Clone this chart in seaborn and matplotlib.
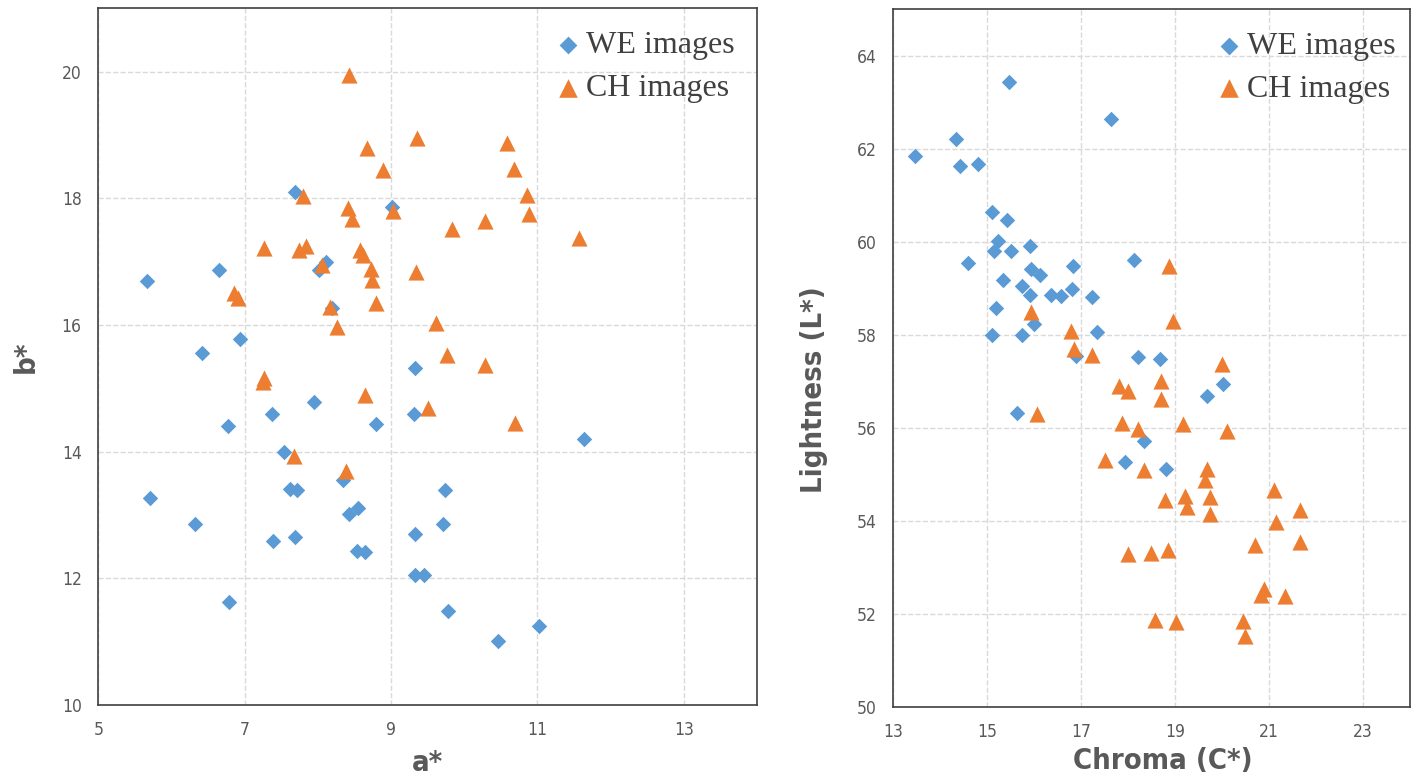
import matplotlib
matplotlib.use("Agg")
import matplotlib.pyplot as plt
import seaborn as sns
import pandas as pd

# WE images, a*/b* (left panel)
we_a = [5.67, 6.65, 6.93, 6.41, 9.33, 7.69, 9.01, 8.11, 8.01, 8.19,
        6.77, 7.37, 7.95, 8.79, 9.32, 7.54, 5.70, 6.32, 7.62, 7.72,
        8.34, 7.38, 7.69, 8.43, 8.55, 8.53, 8.65, 9.33, 9.33, 9.45,
        6.79, 11.63, 9.74, 9.71, 9.78, 11.02, 10.46]
we_b = [16.70, 16.87, 15.78, 15.55, 15.32, 18.10, 17.87, 16.99, 16.86, 16.26,
        14.40, 14.59, 14.78, 14.44, 14.60, 13.99, 13.26, 12.85, 13.41, 13.39,
        13.55, 12.58, 12.65, 13.01, 13.11, 12.43, 12.42, 12.69, 12.05, 12.05,
        11.63, 14.20, 13.40, 12.86, 11.48, 11.25, 11.01]

# CH images, a*/b* (left panel)
ch_a = [8.43, 9.36, 8.67, 8.89, 7.80, 8.41, 8.46, 9.02, 7.26, 7.74,
        7.84, 8.58, 8.61, 8.73, 8.74, 9.34, 8.06, 6.85, 6.91, 8.80,
        8.16, 8.26, 7.27, 7.25, 8.65, 7.68, 8.38, 9.51, 10.70, 10.59,
        10.68, 10.86, 10.88, 10.29, 9.83, 11.57, 9.62, 9.77, 10.28]
ch_b = [19.94, 18.95, 18.79, 18.44, 18.04, 17.85, 17.68, 17.80, 17.22, 17.19,
        17.25, 17.18, 17.10, 16.88, 16.71, 16.83, 16.95, 16.50, 16.42, 16.34,
        16.28, 15.97, 15.16, 15.10, 14.89, 13.93, 13.69, 14.68, 14.45, 18.87,
        18.46, 18.06, 17.75, 17.64, 17.52, 17.38, 16.03, 15.52, 15.37]

# WE images, chroma/lightness (right panel)
we_c = [15.46, 17.64, 14.33, 13.47, 14.42, 14.81, 15.10, 15.42, 15.24, 15.14,
        15.52, 15.92, 14.59, 18.13, 15.93, 16.13, 16.83, 15.33, 15.75, 15.91,
        16.36, 16.58, 16.81, 17.23, 15.19, 16.00, 17.33, 15.10, 15.75, 16.90,
        18.21, 18.68, 15.64, 18.33, 17.94, 20.02, 19.68, 18.81]
we_l = [63.43, 62.64, 62.20, 61.85, 61.63, 61.68, 60.64, 60.46, 60.02, 59.80,
        59.79, 59.91, 59.55, 59.60, 59.42, 59.29, 59.48, 59.18, 59.05, 58.86,
        58.85, 58.84, 58.98, 58.82, 58.57, 58.24, 58.06, 58.00, 58.00, 57.55,
        57.53, 57.48, 56.32, 55.71, 55.27, 56.95, 56.69, 55.11]

# CH images, chroma/lightness (right panel)
ch_c = [15.93, 16.78, 16.85, 17.23, 18.88, 18.96, 20.00, 16.07, 17.80, 18.00,
        17.88, 18.22, 17.50, 18.33, 17.99, 18.71, 18.70, 19.17, 20.10, 19.67,
        19.63, 18.79, 19.21, 19.26, 19.75, 19.75, 21.10, 21.66, 21.15, 21.65,
        20.71, 18.49, 18.86, 20.90, 20.83, 21.34, 18.57, 19.02, 20.44, 20.48]
ch_l = [58.48, 58.07, 57.69, 57.57, 59.47, 58.29, 57.36, 56.30, 56.89, 56.80,
        56.10, 55.97, 55.31, 55.08, 53.29, 57.00, 56.62, 56.09, 55.94, 55.11,
        54.88, 54.44, 54.53, 54.30, 54.51, 54.15, 54.67, 54.23, 53.98, 53.54,
        53.47, 53.31, 53.38, 52.54, 52.41, 52.38, 51.86, 51.82, 51.84, 51.52]

blue = "#5B9BD5"
orange = "#ED7D31"
grey = "#595959"

sns.set_style("whitegrid", {"grid.linestyle": "--", "grid.color": "#D9D9D9",
                            "axes.edgecolor": "#404040"})
plt.rcParams["font.family"] = ["DejaVu Sans"]
plt.rcParams["font.stretch"] = "condensed"

fig = plt.figure(figsize=(14.17, 7.84), dpi=100)
ax1 = fig.add_axes([0.0694, 0.1011, 0.4648, 0.8882])
ax2 = fig.add_axes([0.6302, 0.0986, 0.3649, 0.8896])

lab = dict(fontsize=21, fontweight="bold", color=grey, fontstretch="condensed")

def draw(ax, wx, wy, cx, cy, anchor):
    sns.scatterplot(x=wx, y=wy, ax=ax, color=blue, marker="D", s=62,
                    linewidth=0, label="WE images", zorder=3)
    sns.scatterplot(x=cx, y=cy, ax=ax, color=orange, marker="^", s=135,
                    linewidth=0, label="CH images", zorder=3)
    for sp in ax.spines.values():
        sp.set_visible(True)
        sp.set_color("#404040")
        sp.set_linewidth(1.2)
    ax.tick_params(direction="in", length=5, width=1, colors="#404040",
                   labelcolor=grey, labelsize=12.5, pad=12)
    ax.grid(True, linestyle="--", color="#D9D9D9", linewidth=1)
    leg = ax.legend(loc="upper right", bbox_to_anchor=anchor, frameon=False,
                    markerscale=1.15, handletextpad=0.05, handlelength=1.0,
                    labelspacing=0.42, borderaxespad=0.3,
                    prop={"family": ["Liberation Serif", "DejaVu Serif"], "size": 23})
    for t in leg.get_texts():
        t.set_color("#404040")

draw(ax1, we_a, we_b, ch_a, ch_b, (1.0, 1.0))
ax1.set_xlim(5, 14)
ax1.set_ylim(10, 21)
ax1.set_xticks([5, 7, 9, 11, 13])
ax1.set_yticks([10, 12, 14, 16, 18, 20])
ax1.set_xlabel("a*", **lab)
ax1.set_ylabel("b*", labelpad=16, **lab)
ax1.xaxis.set_label_coords(0.5, -0.063)

draw(ax2, we_c, we_l, ch_c, ch_l, (1.015, 1.0))
ax2.set_xlim(13, 24)
ax2.set_ylim(50, 65)
ax2.set_xticks([13, 15, 17, 19, 21, 23])
ax2.set_yticks([50, 52, 54, 56, 58, 60, 62, 64])
ax2.set_xlabel("Chroma (C*)", **lab)
ax2.set_ylabel("Lightness (L*)", **lab)
ax2.xaxis.set_label_coords(0.522, -0.058)
ax2.yaxis.set_label_coords(-0.126, 0.455)

fig.savefig("out.png", dpi=100)
